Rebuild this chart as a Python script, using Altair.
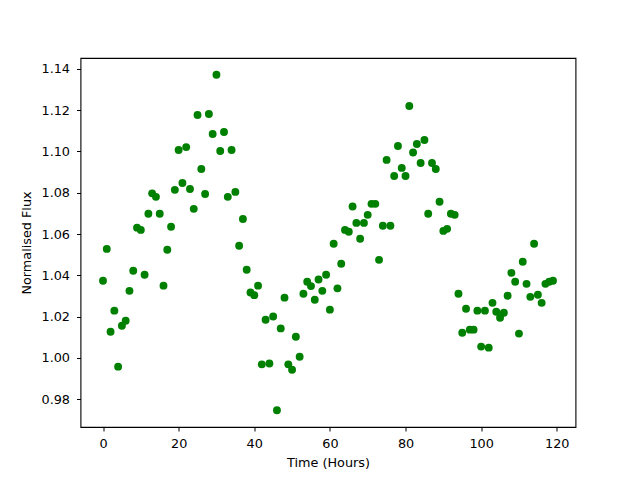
import altair as alt
import pandas as pd

hours = list(range(120))
flux = [
    1.0374, 1.0528, 1.0127, 1.0229, 0.9958, 1.0156, 1.0180, 1.0325, 1.0422, 1.0631,
    1.0620, 1.0403, 1.0698, 1.0797, 1.0780, 1.0698, 1.0350, 1.0524, 1.0635, 1.0814,
    1.1007, 1.0847, 1.1021, 1.0818, 1.0722, 1.1176, 1.0915, 1.0794, 1.1181, 1.1084,
    1.1371, 1.1002, 1.1094, 1.0780, 1.1007, 1.0804, 1.0543, 1.0673, 1.0427, 1.0317,
    1.0304, 1.0350, 0.9969, 1.0185, 0.9973, 1.0201, 0.9747, 1.0143, 1.0292, 0.9969,
    0.9943, 1.0103, 1.0006, 1.0311, 1.0369, 1.0348, 1.0282, 1.0380, 1.0325, 1.0403,
    1.0234, 1.0553, 1.0337, 1.0456, 1.0620, 1.0611, 1.0733, 1.0654, 1.0577, 1.0654,
    1.0693, 1.0746, 1.0746, 1.0475, 1.0640, 1.0959, 1.0640, 1.0881, 1.1026, 1.0920,
    1.0881, 1.1220, 1.0995, 1.1036, 1.0944, 1.1055, 1.0698, 1.0944, 1.0915, 1.0756,
    1.0615, 1.0625, 1.0698, 1.0693, 1.0311, 1.0122, 1.0238, 1.0137, 1.0137, 1.0229,
    1.0055, 1.0229, 1.0050, 1.0267, 1.0224, 1.0195, 1.0219, 1.0301, 1.0412, 1.0369,
    1.0118, 1.0466, 1.0359, 1.0296, 1.0553, 1.0306, 1.0267, 1.0359, 1.0369, 1.0374,
]
x_ticks = [0, 20, 40, 60, 80, 100, 120]
y_ticks = [0.98, 1.00, 1.02, 1.04, 1.06, 1.08, 1.10, 1.12, 1.14]

df = pd.DataFrame({"hour": hours, "flux": flux})

FONT = "DejaVu Sans"
FS = 12.8

chart = alt.Chart(df).mark_circle(size=62, color="#008000", opacity=1).encode(
    x=alt.X(
        "hour:Q",
        scale=alt.Scale(domain=[-5.95, 124.95], nice=False, zero=False),
        axis=alt.Axis(
            values=x_ticks, title="Time (Hours)", grid=False, domain=False,
            tickColor="black", tickSize=4, tickWidth=1,
            labelFont=FONT, labelFontSize=FS, labelColor="black",
            labelBaseline="alphabetic", labelPadding=16.3, labelFlush=False,
            titleFont=FONT, titleFontSize=FS, titleFontWeight="normal", titleColor="black",
            titleBaseline="alphabetic", titleY=39.7, titleAnchor="middle",
        ),
    ),
    y=alt.Y(
        "flux:Q",
        scale=alt.Scale(domain=[0.96658, 1.14522], nice=False, zero=False),
        axis=alt.Axis(
            values=y_ticks, format=".2f", title="Normalised Flux", grid=False, domain=False,
            tickColor="black", tickSize=4, tickWidth=1,
            labelFont=FONT, labelFontSize=FS, labelColor="black",
            labelPadding=7, labelFlush=False, labelBaseline="middle",
            titleFont=FONT, titleFontSize=FS, titleFontWeight="normal", titleColor="black",
            titleBaseline="alphabetic", titleAngle=270, titleX=-50, titleAnchor="middle",
        ),
    ),
).properties(
    width=495,
    height=369,
    background="white",
    autosize=alt.AutoSizeParams(type="none"),
    padding={"left": 72.5, "top": 50, "right": 56, "bottom": 45},
).configure_view(
    stroke="#000000", strokeWidth=1.1, strokeOpacity=1
)

chart.save("out.html", embed_options={"renderer": "svg", "actions": False})
